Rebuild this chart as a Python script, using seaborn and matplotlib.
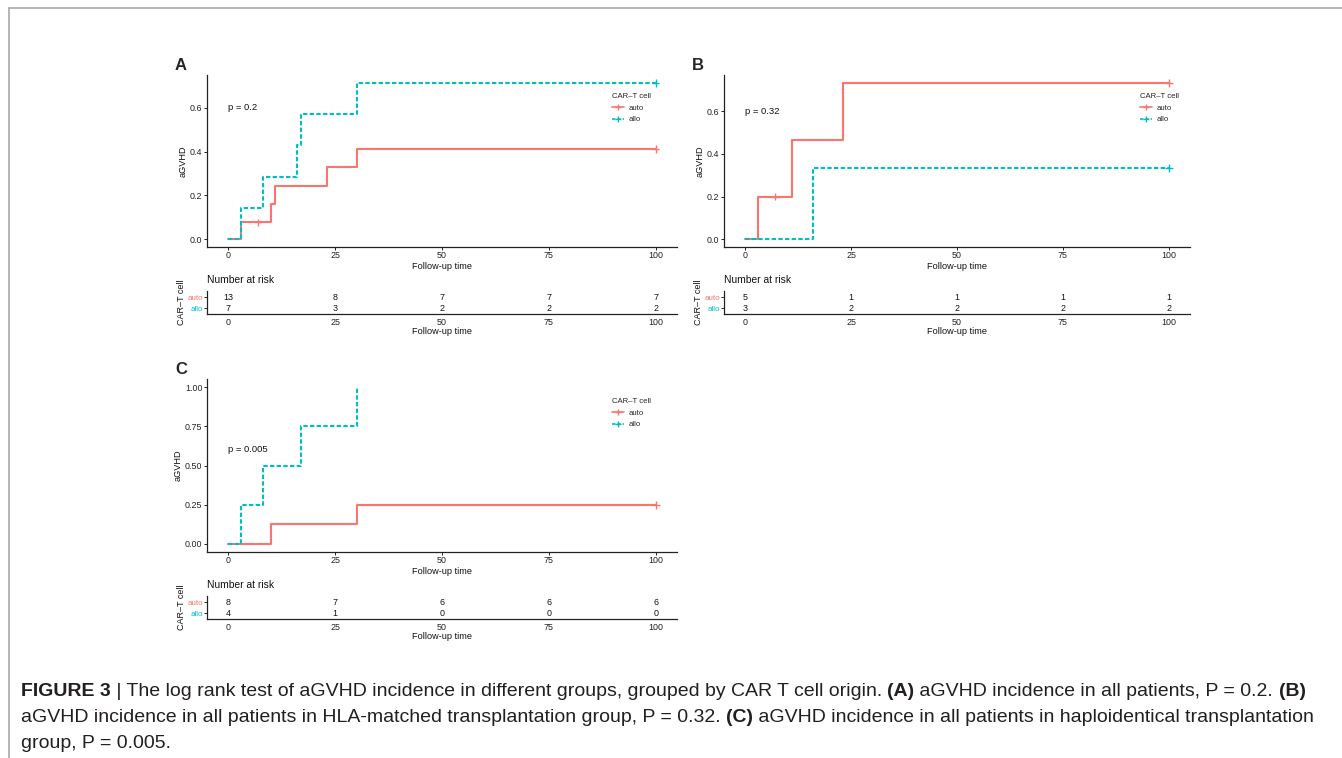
import numpy as np
import pandas as pd
import matplotlib
matplotlib.use('Agg')
import matplotlib.pyplot as plt
from matplotlib.lines import Line2D
import seaborn as sns

sns.set_style('ticks')
plt.rcParams['font.family'] = ['Liberation Sans', 'DejaVu Sans']

RED = '#F8766D'
TEAL = '#00BFC4'
groups = ['auto', 'allo']
risk_times = [0, 25, 50, 75, 100]

# panel A - all patients
a_auto_t = [0, 3, 10, 11, 23, 30, 100]
a_auto_y = [0, 0.077, 0.16, 0.244, 0.328, 0.412, 0.412]
a_auto_cens = [7, 100]
a_allo_t = [0, 3, 8, 16, 17, 30, 100]
a_allo_y = [0, 0.143, 0.286, 0.429, 0.571, 0.714, 0.714]
a_allo_cens = [100]
a_risk_auto = [13, 8, 7, 7, 7]
a_risk_allo = [7, 3, 2, 2, 2]

# panel B - HLA-matched
b_auto_t = [0, 3, 11, 23, 100]
b_auto_y = [0, 0.2, 0.467, 0.733, 0.733]
b_auto_cens = [7, 100]
b_allo_t = [0, 16, 100]
b_allo_y = [0, 0.333, 0.333]
b_allo_cens = [100]
b_risk_auto = [5, 1, 1, 1, 1]
b_risk_allo = [3, 2, 2, 2, 2]

# panel C - haploidentical
c_auto_t = [0, 10, 30, 100]
c_auto_y = [0, 0.125, 0.25, 0.25]
c_auto_cens = [100]
c_allo_t = [0, 3, 8, 17, 30]
c_allo_y = [0, 0.25, 0.5, 0.75, 1.0]
c_allo_cens = []
c_risk_auto = [8, 7, 6, 6, 6]
c_risk_allo = [4, 1, 0, 0, 0]

W, H = 1342, 758
fig = plt.figure(figsize=(W / 100, H / 100), dpi=100)
DASH = (2.1, 1.1)


def rect(l, t, r, b):
    return [l / W, 1 - b / H, (r - l) / W, (b - t) / H]


def style_axes(ax):
    sns.despine(ax=ax)
    for s in ['left', 'bottom']:
        ax.spines[s].set_linewidth(0.9)
        ax.spines[s].set_color('#222')


def panel(box, tbox, letter, auto_t, auto_y, auto_c, allo_t, allo_y, allo_c,
          risk_auto, risk_allo, ptext, yticks, yfmt, leg_xy, ptxt_y):
    ax = fig.add_axes(rect(*box))
    curves = pd.DataFrame({
        'time': auto_t + allo_t,
        'inc': auto_y + allo_y,
        'group': ['auto'] * len(auto_t) + ['allo'] * len(allo_t)})
    sns.lineplot(data=curves, x='time', y='inc', hue='group', style='group',
                 hue_order=groups, style_order=groups,
                 palette={'auto': RED, 'allo': TEAL},
                 dashes={'auto': '', 'allo': DASH},
                 drawstyle='steps-post', estimator=None, sort=False,
                 lw=1.5, legend=False, ax=ax)
    cens = []
    for g, t, y, c in [('auto', auto_t, auto_y, auto_c), ('allo', allo_t, allo_y, allo_c)]:
        for ct in c:
            i = np.searchsorted(t, ct, side='right') - 1
            cens.append((g, ct, y[i]))
    if cens:
        cdf = pd.DataFrame(cens, columns=['group', 'time', 'inc'])
        sns.scatterplot(data=cdf, x='time', y='inc', hue='group', hue_order=groups,
                        palette={'auto': RED, 'allo': TEAL}, marker='+', s=30,
                        linewidth=1.0, legend=False, ax=ax, zorder=5)
    ymax = max(max(auto_y), max(allo_y))
    ax.set_ylim(-0.05 * ymax, 1.05 * ymax)
    ax.set_xlim(-5, 105)
    ax.set_xticks(risk_times)
    ax.set_yticks(yticks)
    ax.set_yticklabels([yfmt.format(v) for v in yticks])
    ax.set_xlabel('Follow-up time', fontsize=6.6, color='#111', labelpad=1)
    ax.set_ylabel('aGVHD', fontsize=6.6, color='#111', labelpad=2)
    ax.tick_params(labelsize=6.4, colors='#222', length=2, width=0.7, pad=1.2)
    style_axes(ax)
    ax.text(0, ptxt_y, ptext, fontsize=6.8, color='#111', va='center', ha='left')
    handles = [Line2D([], [], color=RED, lw=1.2, marker='+', ms=4),
               Line2D([], [], color=TEAL, lw=1.2, ls=(0, DASH), marker='+', ms=4)]
    ax.legend(handles, groups, title='CAR\u2013T cell', loc='upper left',
              bbox_to_anchor=(leg_xy[0] / W, 1 - leg_xy[1] / H),
              bbox_transform=fig.transFigure, frameon=False,
              fontsize=5.6, title_fontsize=5.6, handlelength=1.6,
              handletextpad=0.5, labelspacing=0.55, borderpad=0,
              borderaxespad=0, alignment='left')
    fig.text((box[0] - 32) / W, 1 - (box[1] - 10) / H, letter, fontsize=12,
             fontweight='bold', va='center', ha='left')

    # risk table
    tx = fig.add_axes(rect(*tbox))
    tx.set_xlim(-5, 105)
    tx.set_ylim(0.5, 2.5)
    for t, na, nl in zip(risk_times, risk_auto, risk_allo):
        tx.text(t, 2, str(na), fontsize=6.4, ha='center', va='center', color='#111')
        tx.text(t, 1, str(nl), fontsize=6.4, ha='center', va='center', color='#111')
    tx.set_xticks(risk_times)
    tx.set_yticks([2, 1])
    tx.set_yticklabels(groups)
    for lab, c in zip(tx.get_yticklabels(), [RED, TEAL]):
        lab.set_color(c)
    tx.tick_params(axis='y', labelsize=5.8, length=2, width=0.7, pad=1)
    tx.tick_params(axis='x', labelsize=6.4, colors='#222', length=0, pad=3)
    style_axes(tx)
    tx.set_xlabel('Follow-up time', fontsize=6.6, color='#111', labelpad=0)
    tx.set_ylabel('CAR\u2013T cell', fontsize=6.5, color='#111')
    tx.yaxis.set_label_coords(-21 / (tbox[2] - tbox[0]), 0.5)
    fig.text(tbox[0] / W, 1 - (tbox[1] - 11) / H, 'Number at risk', fontsize=7.4,
             color='#111', va='center', ha='left')
    return ax


panel((207, 75, 677, 247), (207, 291.4, 677, 314), 'A',
      a_auto_t, a_auto_y, a_auto_cens, a_allo_t, a_allo_y, a_allo_cens,
      a_risk_auto, a_risk_allo, 'p = 0.2', [0, 0.2, 0.4, 0.6], '{:.1f}',
      (612, 93), 0.6)
panel((724, 75, 1190, 247), (724, 291.4, 1190, 314), 'B',
      b_auto_t, b_auto_y, b_auto_cens, b_allo_t, b_allo_y, b_allo_cens,
      b_risk_auto, b_risk_allo, 'p = 0.32', [0, 0.2, 0.4, 0.6], '{:.1f}',
      (1140, 93), 0.6)
panel((207, 379.5, 677, 551.7), (207, 596.4, 677, 619), 'C',
      c_auto_t, c_auto_y, c_auto_cens, c_allo_t, c_allo_y, c_allo_cens,
      c_risk_auto, c_risk_allo, 'p = 0.005', [0, 0.25, 0.5, 0.75, 1.0], '{:.2f}',
      (612, 398), 0.6)

# frame lines
fig.add_artist(Line2D([9 / W, 1], [1 - 8 / H, 1 - 8 / H], color='#a8a8a8', lw=1.2,
                      transform=fig.transFigure))
fig.add_artist(Line2D([9 / W, 9 / W], [1 - 8 / H, 0], color='#a8a8a8', lw=1.2,
                      transform=fig.transFigure))

# caption with bold pieces
caption = [
    [('FIGURE 3', True), (' | The log rank test of aGVHD incidence in different groups, grouped by CAR T cell origin. ', False),
     ('(A)', True), (' aGVHD incidence in all patients, P = 0.2. ', False), ('(B)', True)],
    [('aGVHD incidence in all patients in HLA-matched transplantation group, P = 0.32. ', False), ('(C)', True),
     (' aGVHD incidence in all patients in haploidentical transplantation', False)],
    [('group, P = 0.005.', False)],
]
cap_y = [692, 718, 743]
renderer = fig.canvas.get_renderer()
for line, yy in zip(caption, cap_y):
    x = 21
    for txt, bold in line:
        t = fig.text(x / W, 1 - yy / H, txt, fontsize=14.0, color='#231f20',
                     fontweight='bold' if bold else 'normal', va='center', ha='left')
        x += t.get_window_extent(renderer).width

fig.savefig('out.png', dpi=100)
